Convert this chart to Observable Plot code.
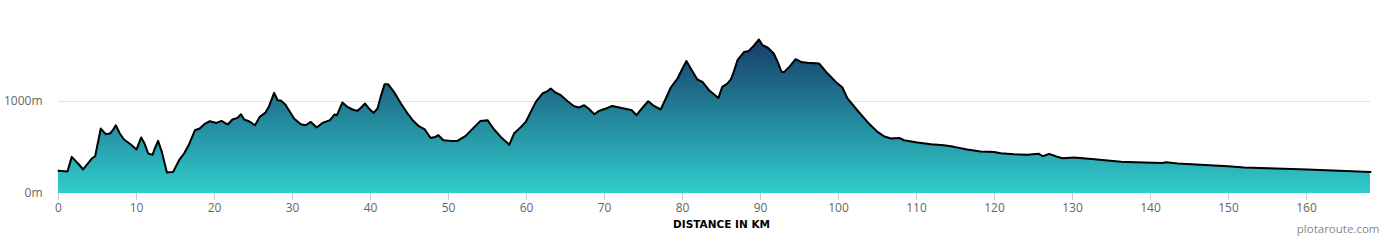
<!DOCTYPE html>
<html>
<head>
<meta charset="utf-8">
<script src="https://cdn.jsdelivr.net/npm/d3@7"></script>
<script src="https://cdn.jsdelivr.net/npm/@observablehq/plot@0.6"></script>
<style>
  html, body { margin: 0; padding: 0; background: #fff; }
  #chart { width: 1390px; height: 240px; }
</style>
</head>
<body>
<div id="chart"></div>
<script>
// Distance along route (km)
const distanceKm = [
  0, 1.15, 1.7, 2.3, 2.6, 3.16, 3.7, 4.27, 4.7, 5.42, 6.06, 6.6, 6.9, 7.35, 7.86, 8.4, 9.27, 10.0,
  10.6, 11.0, 11.5, 12.05, 12.35, 12.77, 13.25, 13.9, 14.7, 15.46, 16.1, 16.75, 17.5, 18.1, 18.7,
  19.4, 20.25, 20.9, 21.7, 22.3, 22.95, 23.4, 23.8, 24.4, 25.2, 25.8, 26.5, 27.0, 27.65, 28.1, 28.5,
  29.1, 29.5, 30.2, 31.06, 31.7, 32.35, 33.1, 33.85, 34.8, 35.4, 35.7, 36.4, 37.05, 37.7, 38.3, 38.75,
  39.3, 39.8, 40.4, 40.9, 41.3, 41.8, 42.25, 43.0, 43.9, 44.75, 45.4, 46.2, 46.96, 47.7, 48.3, 48.7,
  49.35, 50.3, 51.15, 52.2, 53.2, 54.1, 55.0, 55.85, 56.7, 57.8, 58.4, 59.3, 59.9, 60.55, 61.2, 62.05,
  62.7, 63.1, 63.7, 64.4, 65.26, 66.1, 66.75, 67.4, 67.95, 68.7, 69.3, 70.2, 71.0, 71.9, 72.95, 73.5,
  74.1, 74.9, 75.6, 76.35, 77.2, 77.86, 78.5, 79.36, 80.0, 80.5, 81.06, 81.9, 82.56, 83.4, 84.6, 85.1,
  85.77, 86.2, 86.6, 87.05, 87.9, 88.5, 89.2, 89.8, 90.26, 90.9, 91.7, 92.2, 92.7, 93.05, 93.7, 94.5,
  95.2, 96.0, 97.5, 98.6, 99.65, 100.5, 101.15, 102.4, 103.7, 105.0, 105.8, 106.7, 107.8, 108.4,
  110.1, 111.85, 113.5, 114.8, 116.5, 118.2, 119.95, 120.8, 122.5, 124.2, 125.7, 126.2, 127.0, 127.85,
  128.7, 130.2, 132.8, 136.2, 138.0, 141.5, 142.0, 143.5, 149.9, 152.0, 160.1, 168.2
];
// Elevation (m)
const elevationM = [
  246, 239, 398, 344, 318, 261, 318, 380, 405, 706, 645, 652, 680, 742, 652, 587, 533, 478,
  609, 550, 435, 420, 489, 572, 452, 228, 235, 362, 435, 536, 688, 706, 753,
  786, 767, 789, 750, 804, 822, 862, 804, 786, 742, 833, 876, 949, 1094, 1014, 1010,
  965, 910, 815, 753, 742, 778, 717, 767, 797, 859, 851, 989, 941, 913, 898, 930,
  978, 924, 876, 924, 1050, 1188, 1188, 1105, 978, 870, 797, 732, 696, 604, 615, 634,
  579, 572, 572, 626, 713, 789, 797, 696, 615, 530, 652, 724, 778, 887, 996, 1087,
  1112, 1141, 1098, 1069, 1003, 949, 935, 960, 924, 862, 898, 924, 952, 935, 916, 905,
  851, 935, 1003, 952, 913, 1033, 1152, 1250, 1359, 1441, 1359, 1239, 1213, 1123, 1039, 1159,
  1196, 1240, 1330, 1449, 1539, 1550, 1612, 1674, 1612, 1587, 1522, 1430, 1322, 1322, 1376, 1460,
  1430, 1420, 1413, 1304, 1213, 1152, 1033, 905, 778, 670, 623, 598, 604, 579,
  554, 536, 525, 507, 478, 457, 452, 438, 427, 420, 431, 405, 431, 405,
  384, 391, 373, 344, 340, 332, 340, 326, 297, 283, 261, 235
];
const xTicks = [0, 10, 20, 30, 40, 50, 60, 70, 80, 90, 100, 110, 120, 130, 140, 150, 160];
const yTicks = [0, 1000];
const xTitle = "DISTANCE IN KM";
const credit = "plotaroute.com";

const data = distanceKm.map((km, i) => ({km, elev: elevationM[i]}));

const svgNS = "http://www.w3.org/2000/svg";
function gradientDefs() {
  const defs = document.createElementNS(svgNS, "defs");
  const g = document.createElementNS(svgNS, "linearGradient");
  g.setAttribute("id", "elevGrad");
  g.setAttribute("x1", "0"); g.setAttribute("y1", "0");
  g.setAttribute("x2", "0"); g.setAttribute("y2", "1");
  [["0%", "#163c68"], ["100%", "#30cdcc"]].forEach(([o, c]) => {
    const s = document.createElementNS(svgNS, "stop");
    s.setAttribute("offset", o);
    s.setAttribute("stop-color", c);
    g.appendChild(s);
  });
  defs.appendChild(g);
  return defs;
}

const chart = Plot.plot({
  width: 1390,
  height: 240,
  marginLeft: 58,
  marginRight: 20,
  marginTop: 9,
  marginBottom: 47,
  style: {fontFamily: "'Open Sans', sans-serif", background: "#fff"},
  x: {domain: [0, 168.2]},
  y: {domain: [0, 2000]},
  marks: [
    gradientDefs,
    Plot.gridY(yTicks.filter(d => d > 0), {stroke: "#e3e3e3", strokeOpacity: 1}),
    Plot.areaY(data, {x: "km", y: "elev", fill: "url(#elevGrad)"}),
    Plot.lineY(data, {x: "km", y: "elev", stroke: "#000", strokeWidth: 2, strokeLinejoin: "round"}),
    Plot.axisY(yTicks, {tickSize: 0, tickPadding: 16, tickFormat: d => d + "m", fontSize: 12, fill: "#666", label: null}),
    Plot.axisX(xTicks, {tickSize: 7, tickPadding: 3, stroke: "#ccc", fill: "#666", fontSize: 12, label: null}),
    Plot.text([xTitle], {frameAnchor: "bottom", dx: 7, dy: 34, fontSize: 10.5, fontWeight: "bold", fontFamily: "DejaVu Sans", fill: "#000"}),
    Plot.text([credit], {frameAnchor: "bottom-right", dx: 9, dy: 39, textAnchor: "end", fontSize: 11.5, fill: "#888"})
  ]
});
document.getElementById("chart").appendChild(chart);
</script>
</body>
</html>
